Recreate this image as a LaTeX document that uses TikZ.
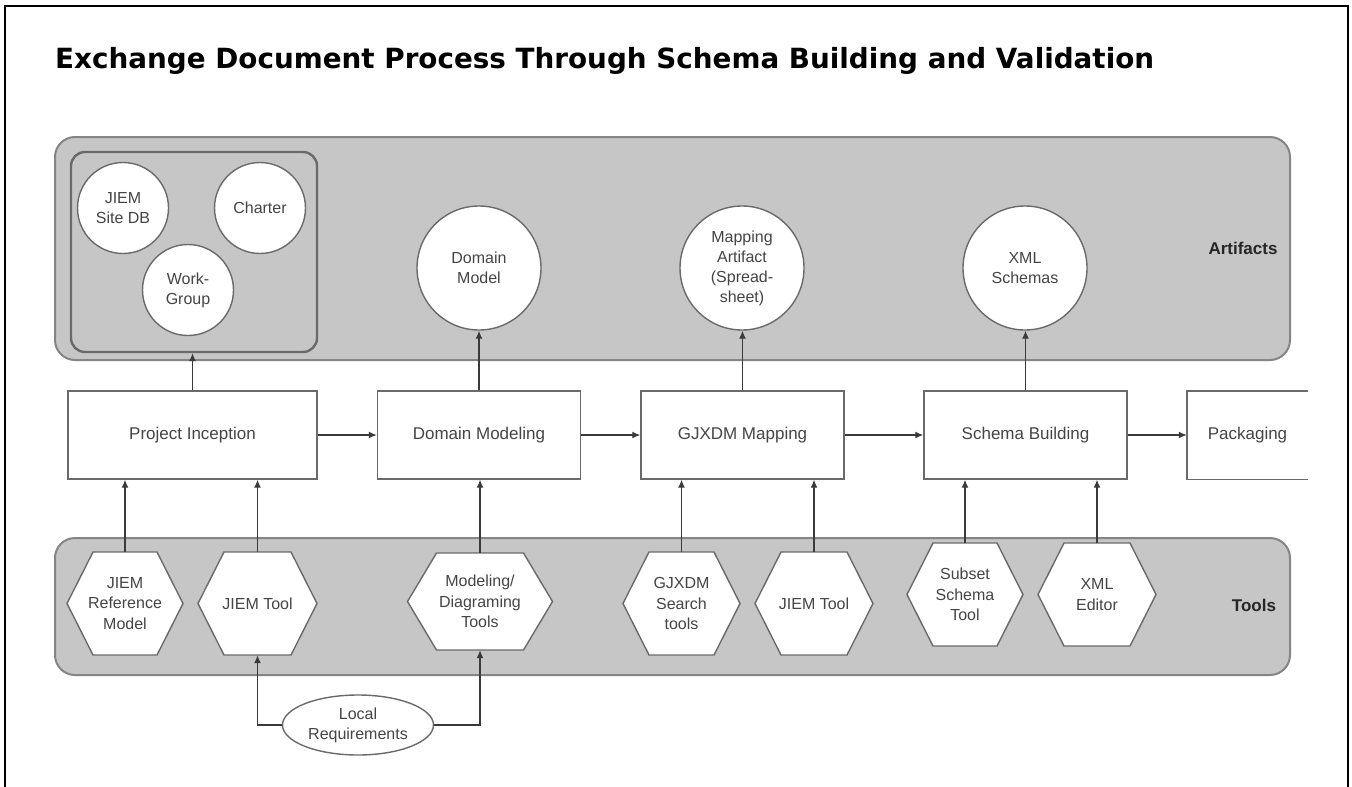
\documentclass[tikz,border=0pt]{standalone}
\usepackage{fontspec}
\setmainfont{Liberation Sans}
\newfontfamily\titlefont{DejaVu Sans}
\usetikzlibrary{shapes.geometric,arrows.meta}
\definecolor{bandfill}{HTML}{C6C6C6}
\definecolor{bandline}{HTML}{858585}
\definecolor{shapeline}{HTML}{6A6A6A}
\definecolor{txt}{HTML}{454545}
\definecolor{conn}{HTML}{3A3A3A}
\tikzset{
  band/.style={draw=bandline, line width=2pt, fill=bandfill, rounded corners=20pt},
  groupbox/.style={draw=shapeline, line width=2.4pt, rounded corners=14pt},
  art/.style={circle, draw=shapeline, line width=1.4pt, fill=white, text=txt,
    font=\fontsize{16}{20}\selectfont, align=center, inner sep=0pt},
  proc/.style={rectangle, draw=shapeline, line width=1.4pt, fill=white, text=txt,
    font=\fontsize{17}{21}\selectfont, minimum height=88pt, inner sep=0pt},
  hexline/.style={draw=shapeline, line width=1.4pt, fill=white},
  tooltext/.style={rectangle, inner sep=0pt, text=txt,
    font=\fontsize{16}{20.5}\selectfont, align=center},
  lbl/.style={text=black!85, font=\fontsize{17}{20}\selectfont\bfseries},
  arr/.style={draw=conn, line width=1.3pt, -{Latex[length=8pt,width=7pt]}},
}
% name, cx, cy, width, height, inset, text
\newcommand\hexat[7]{%
  \draw[hexline] ({#2-#4/2},#3) -- ({#2-#4/2+#6},{#3-#5/2}) -- ({#2+#4/2-#6},{#3-#5/2})
    -- ({#2+#4/2},#3) -- ({#2+#4/2-#6},{#3+#5/2}) -- ({#2-#4/2+#6},{#3+#5/2}) -- cycle;
  \node[tooltext, minimum width=#4pt, minimum height=#5pt] (#1) at (#2,#3) {#7};}
\begin{document}
\begin{tikzpicture}[x=1pt,y=-1pt]
\useasboundingbox (0,0) rectangle (1352,787);
\fill[white] (0,0) rectangle (1352,787);
% frame
\draw[line width=2.2pt, black] (5,790) -- (5,6) -- (1348,6) -- (1348,790);
% title
\node[anchor=base west, inner sep=0pt, font=\titlefont\bfseries\fontsize{27.8}{32}\selectfont] (title) at (55,68)
  {Exchange Document Process Through Schema Building and Validation};
% bands
\draw[band] (55,137) rectangle (1290,360);
\draw[band] (55,538) rectangle (1290,675);
\node[lbl] (artlbl) at (1243,248) {Artifacts};
\node[lbl] (toollbl) at (1254,605) {Tools};
% inception group
\node[groupbox, minimum width=246pt, minimum height=200pt] (grp) at (194,252) {};
\node[art, minimum size=91pt] (sitedb) at (123,208) {JIEM\\Site DB};
\node[art, minimum size=91pt] (charter) at (260,208) {Charter};
\node[art, minimum size=91pt] (workgrp) at (188,290) {Work-\\Group};
% artifacts
\node[art, minimum size=124pt] (dmodel) at (479,268) {Domain\\Model};
\node[art, minimum size=124pt] (mapart) at (742,268) {Mapping\\Artifact\\(Spread-\\sheet)};
\node[art, minimum size=124pt] (xmls) at (1025,268) {XML\\Schemas};
% process boxes
\node[proc, minimum width=249pt] (pi) at (192.5,435) {Project Inception};
\node[proc, minimum width=203pt] (dm) at (479,435) {Domain Modeling};
\node[proc, minimum width=203pt] (gj) at (742.5,435) {GJXDM Mapping};
\node[proc, minimum width=203pt] (sb) at (1025.5,435) {Schema Building};
\node[text=txt, font=\fontsize{17}{21}\selectfont, minimum width=121pt, minimum height=88pt, inner sep=0pt] (pack) at (1247.5,435) {Packaging};
\draw[draw=shapeline, line width=1.4pt] (pack.north east) -- (pack.north west) -- (pack.south west) -- (pack.south east);
% tools
\hexat{refm}{125}{603.5}{116}{103}{26}{JIEM\\Reference\\Model}
\hexat{jt1}{257.5}{603.5}{119}{103}{26}{JIEM Tool}
\hexat{mod}{480}{601.5}{145}{97}{29}{Modeling/\\Diagraming\\Tools}
\hexat{gjs}{681.5}{603.5}{117}{103}{26}{GJXDM\\Search\\tools}
\hexat{jt2}{814}{603.5}{118}{103}{26}{JIEM Tool}
\hexat{sub}{965}{594.5}{116}{103}{26}{Subset\\Schema\\Tool}
\hexat{xed}{1097}{594.5}{118}{103}{26}{XML\\Editor}
% local requirements
\node[ellipse, draw=shapeline, line width=1.4pt, fill=white, text=txt, minimum width=151pt, minimum height=60pt,
  inner sep=0pt, align=center, font=\fontsize{16}{20}\selectfont] (lr) at (358,725) {Local\\Requirements};
% connectors: process flow
\draw[arr] (pi.east) -- (dm.west);
\draw[arr] (dm.east) -- (gj.west);
\draw[arr] (gj.east) -- (sb.west);
\draw[arr] (sb.east) -- (pack.west);
% to artifacts
\draw[arr] (pi.north) -- (pi.north |- grp.south);
\draw[arr] (dm.north) -- (dmodel.south);
\draw[arr] (gj.north) -- (gj.north |- mapart.south);
\draw[arr] (sb.north) -- (sb.north |- xmls.south);
% tools to processes
\draw[arr] (refm.north) -- (refm.north |- pi.south);
\draw[arr] (jt1.north) -- (jt1.north |- pi.south);
\draw[arr] (mod.north) -- (mod.north |- dm.south);
\draw[arr] (gjs.north) -- (gjs.north |- gj.south);
\draw[arr] (jt2.north) -- (jt2.north |- gj.south);
\draw[arr] (sub.north) -- (sub.north |- sb.south);
\draw[arr] (xed.north) -- (xed.north |- sb.south);
% local requirements
\draw[arr] (lr.west) -| (jt1.south);
\draw[arr] (lr.east) -| (mod.south);
\end{tikzpicture}
\end{document}
